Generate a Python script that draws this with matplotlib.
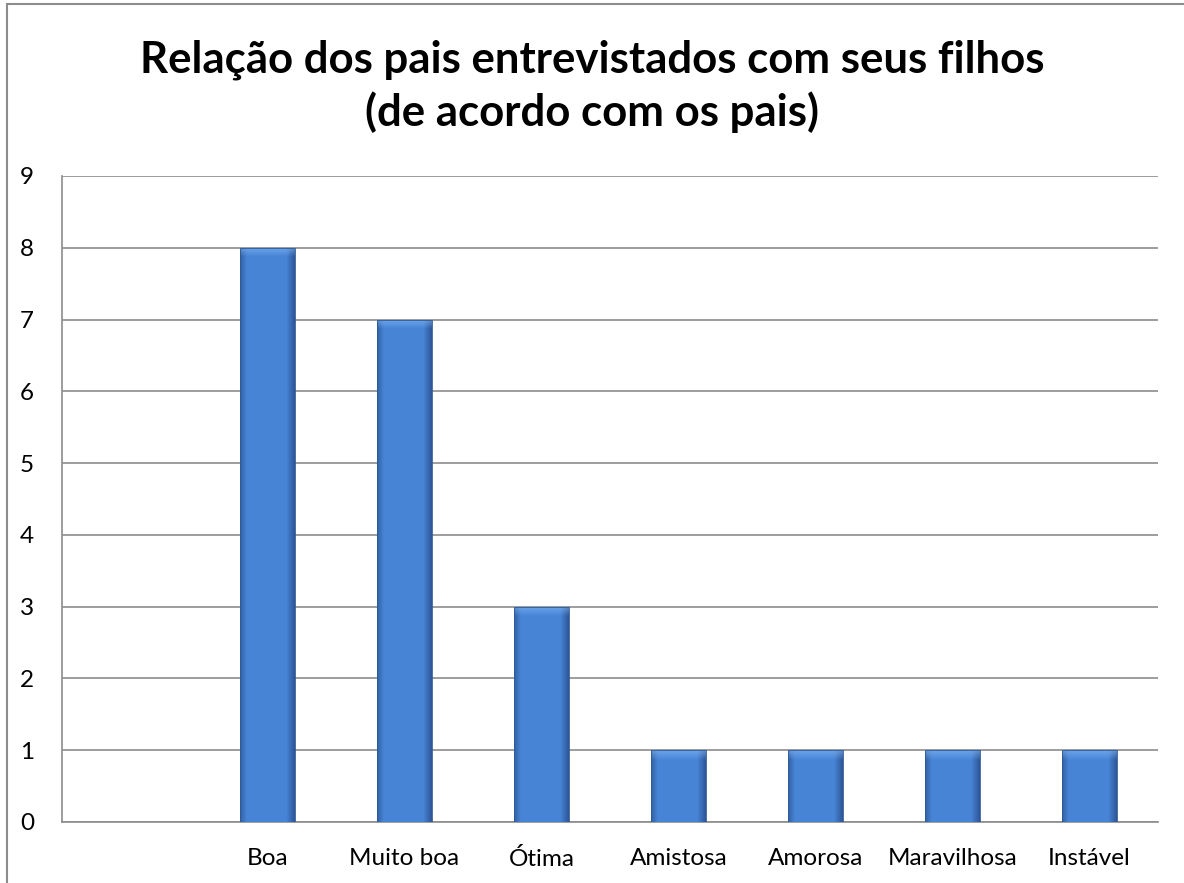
import numpy as np
import matplotlib
matplotlib.use("Agg")
import matplotlib.pyplot as plt
from matplotlib.patches import Rectangle

categories = ["", "Boa", "Muito boa", "Ótima", "Amistosa", "Amorosa", "Maravilhosa", "Instável"]
values = [0, 8, 7, 3, 1, 1, 1, 1]
yticks = list(range(0, 10))
title = "Relação dos pais entrevistados com seus filhos\n(de acordo com os pais)"

plt.rcParams['font.family'] = ['Lato', 'DejaVu Sans']

fig = plt.figure(figsize=(11.84, 8.83), dpi=100)
ax = fig.add_axes([62/1184, 61/883, (1158-62)/1184, (822-176)/883])

# figure border
fig.patches.append(Rectangle((7/1184, -0.01), 1.2, (879-0)/883 + 0.01, transform=fig.transFigure,
                             fill=False, edgecolor='#8c8c8c', lw=1.5))

x = np.arange(len(categories))
width = 0.4
bars = ax.bar(x, values, width=width, color='#4a86d8', zorder=3)

ax.set_xlim(-0.5, len(categories) - 0.5)
ax.set_ylim(0, 9)
ax.set_yticks(yticks)
ax.set_xticks(x)
ax.set_xticklabels(categories, fontsize=17.5)
ax.tick_params(axis='y', labelsize=17.5, length=0, pad=20)
ax.tick_params(axis='x', length=0, pad=19)
ax.grid(axis='y', color='#8c8c8c', lw=1.2, zorder=0)
for s in ['top', 'right']:
    ax.spines[s].set_visible(False)
ax.spines['left'].set_color('#8c8c8c')
ax.spines['bottom'].set_color('#8c8c8c')
ax.spines['left'].set_linewidth(1.2)
ax.spines['bottom'].set_linewidth(1.2)

# bevel gradient
fig.canvas.draw()
px_per_unit = ax.transData.transform((0, 1))[1] - ax.transData.transform((0, 0))[1]
bevel = 10 / px_per_unit
nx = 60
xs = np.linspace(0, 1, nx)
left = np.array([0.20, 0.38, 0.64])
mid = np.array([0.28, 0.52, 0.84])
right = np.array([0.18, 0.34, 0.60])
for b, v in zip(bars, values):
    if v <= 0:
        continue
    x0 = b.get_x(); w = b.get_width()
    ny = 400
    img = np.zeros((ny, nx, 3))
    for i, t in enumerate(xs):
        if t < 0.12:
            c = left + (mid - left) * (t / 0.12)
        elif t > 0.85:
            c = mid + (right - mid) * ((t - 0.85) / 0.15)
        else:
            c = mid
        img[:, i, :] = c
    # top bevel lighter
    nb = max(2, int(ny * bevel / v))
    for j in range(nb):
        f = 1 - j / nb
        img[ny - 1 - j, :, :] = img[ny - 1 - j, :, :] * (1 - 0.55 * f) + np.array([0.55, 0.75, 0.97]) * 0.55 * f
    im = ax.imshow(img, extent=(x0, x0 + w, 0, v), origin='lower', aspect='auto', zorder=4, interpolation='bilinear')
    im.set_clip_path(b)
    b.set_facecolor('none')
    b.set_edgecolor('#2c5a96')
    b.set_linewidth(0.6)
    b.set_zorder(5)

ax.set_xlim(-0.5, len(categories) - 0.5)
ax.set_ylim(0, 9)

fig.text(0.5, 1 - 86/883, title, ha='center', va='center', fontsize=31.5, fontweight='bold', linespacing=1.32)

fig.savefig("out.png", dpi=100)
